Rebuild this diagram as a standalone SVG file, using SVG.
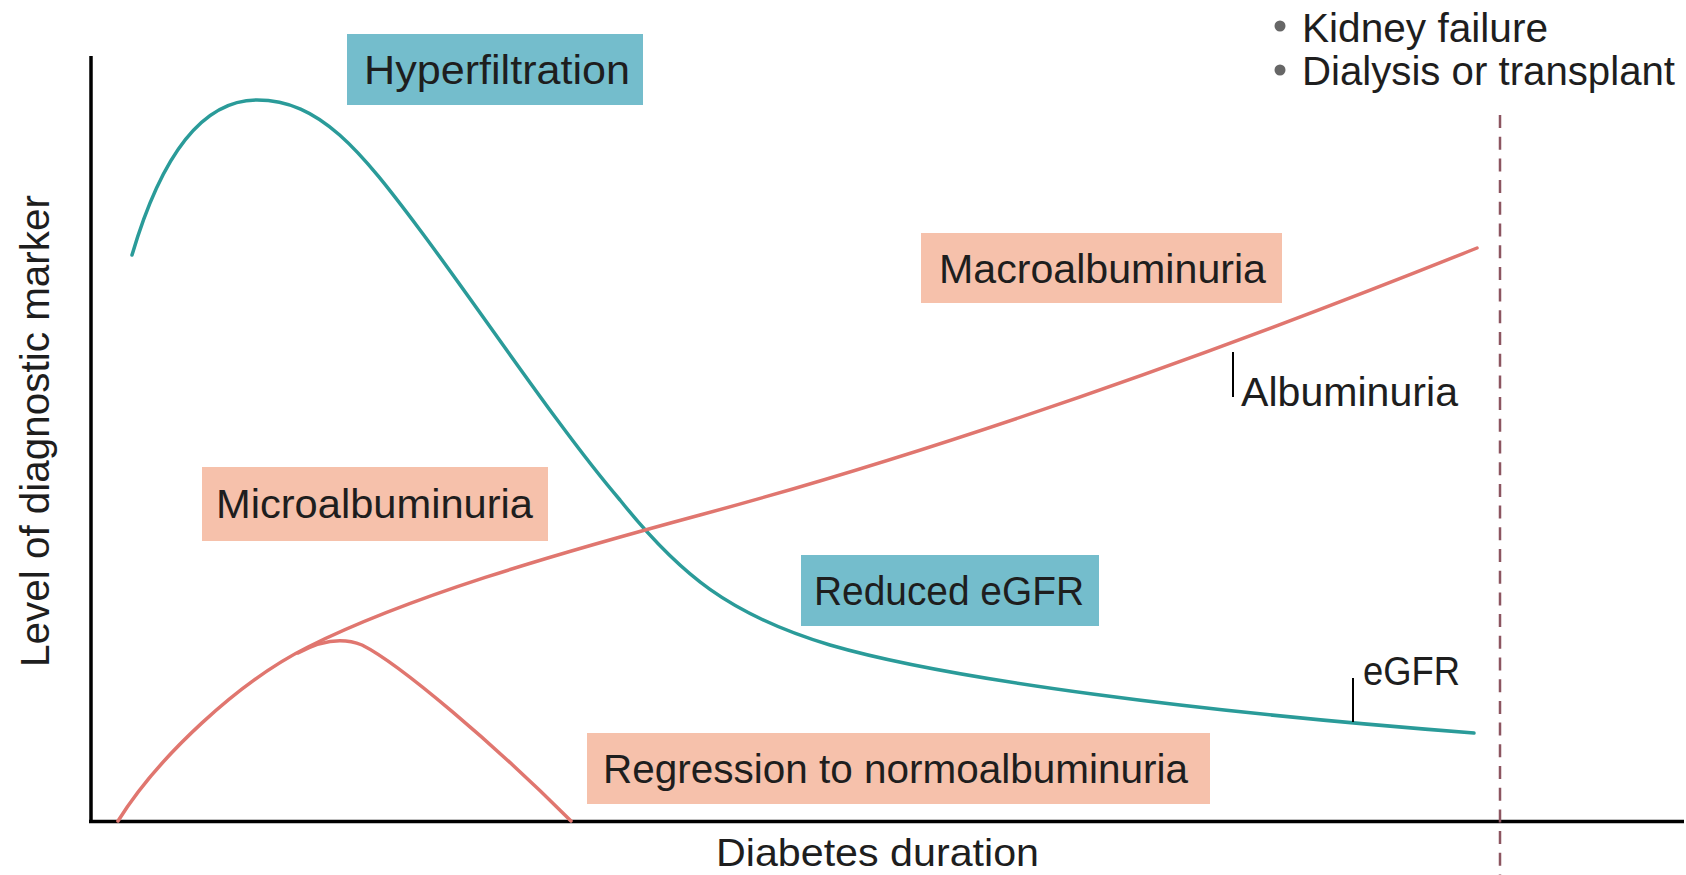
<svg xmlns="http://www.w3.org/2000/svg" width="1686" height="875" viewBox="0 0 1686 875">
  <defs>
    <style>
      .lbl { font-family: "Liberation Sans", Arial, sans-serif; font-size: 41px; fill: #1e1e1e; }
      .tealbox { fill: #74bdcc; }
      .salmonbox { fill: #f6c1ab; }
      .axis { stroke: #000; stroke-width: 3.5; fill: none; }
      .tick { stroke: #000; stroke-width: 2; fill: none; }
      .teal { stroke: #2a9b99; stroke-width: 3.5; fill: none; stroke-linecap: round; }
      .red { stroke: #e0766f; stroke-width: 3.5; fill: none; stroke-linecap: round; }
      .dash { stroke: #8c5560; stroke-width: 2.5; fill: none; stroke-dasharray: 13 8.7; }
      .bullet { fill: #666; }
    </style>
  </defs>
  <rect width="1686" height="875" fill="#fff"/>

  <g id="axes">
    <line class="axis" x1="91" y1="56" x2="91" y2="823"/>
    <line class="axis" x1="89" y1="821.5" x2="1684" y2="821.5"/>
    <text id="y-label" class="lbl" transform="translate(49,667) rotate(-90)" textLength="472" lengthAdjust="spacingAndGlyphs">Level of diagnostic marker</text>
    <text id="x-label" class="lbl" x="716" y="866" style="font-size:39px" textLength="323" lengthAdjust="spacingAndGlyphs">Diabetes duration</text>
  </g>

  <g id="connectors">
    <line class="dash" x1="1500" y1="115" x2="1500" y2="875"/>
    <path id="egfr-curve" class="teal" d="M132,255 C160,160 200,100 257,100 C320,100 360,150 420,230 C480,310 560,430 620,500 C680,575 730,615 830,645 C950,680 1200,712 1474,733"/>
    <path id="albuminuria-curve" class="red" d="M118,821 C158,757 238,682 308,647 C408,597 550,555.5 700,515 C950,447.5 1225,349 1477,248"/>
    <path id="regression-curve" class="red" d="M298,653 C318,642 340,636 362,645 C400,664 495,745 571,821"/>
    <line class="tick" x1="1233" y1="352" x2="1233" y2="397"/>
    <line class="tick" x1="1353" y1="678" x2="1353" y2="722"/>
  </g>

  <g id="hyperfiltration">
    <rect class="tealbox" x="347" y="34" width="296" height="71"/>
    <text class="lbl" x="364" y="84" textLength="266" lengthAdjust="spacingAndGlyphs">Hyperfiltration</text>
  </g>

  <g id="macroalbuminuria">
    <rect class="salmonbox" x="921" y="233" width="361" height="70"/>
    <text class="lbl" x="939" y="283" textLength="327" lengthAdjust="spacingAndGlyphs">Macroalbuminuria</text>
  </g>

  <g id="microalbuminuria">
    <rect class="salmonbox" x="202" y="467" width="346" height="74"/>
    <text class="lbl" x="216" y="518" textLength="317" lengthAdjust="spacingAndGlyphs">Microalbuminuria</text>
  </g>

  <g id="reduced-egfr">
    <rect class="tealbox" x="801" y="555" width="298" height="71"/>
    <text class="lbl" x="814" y="605" textLength="270" lengthAdjust="spacingAndGlyphs">Reduced eGFR</text>
  </g>

  <g id="regression">
    <rect class="salmonbox" x="587" y="733" width="623" height="71"/>
    <text class="lbl" x="603" y="783" textLength="585" lengthAdjust="spacingAndGlyphs">Regression to normoalbuminuria</text>
  </g>

  <g id="albuminuria-label">
    <text class="lbl" x="1241" y="406" textLength="217" lengthAdjust="spacingAndGlyphs">Albuminuria</text>
  </g>

  <g id="egfr-label">
    <text class="lbl" x="1363" y="685" textLength="97" lengthAdjust="spacingAndGlyphs">eGFR</text>
  </g>

  <g id="outcomes">
    <circle class="bullet" cx="1280" cy="26" r="5.5"/>
    <text class="lbl" x="1302" y="42" textLength="246" lengthAdjust="spacingAndGlyphs">Kidney failure</text>
    <circle class="bullet" cx="1280" cy="70" r="5.5"/>
    <text class="lbl" x="1302" y="85" textLength="373" lengthAdjust="spacingAndGlyphs">Dialysis or transplant</text>
  </g>
</svg>
